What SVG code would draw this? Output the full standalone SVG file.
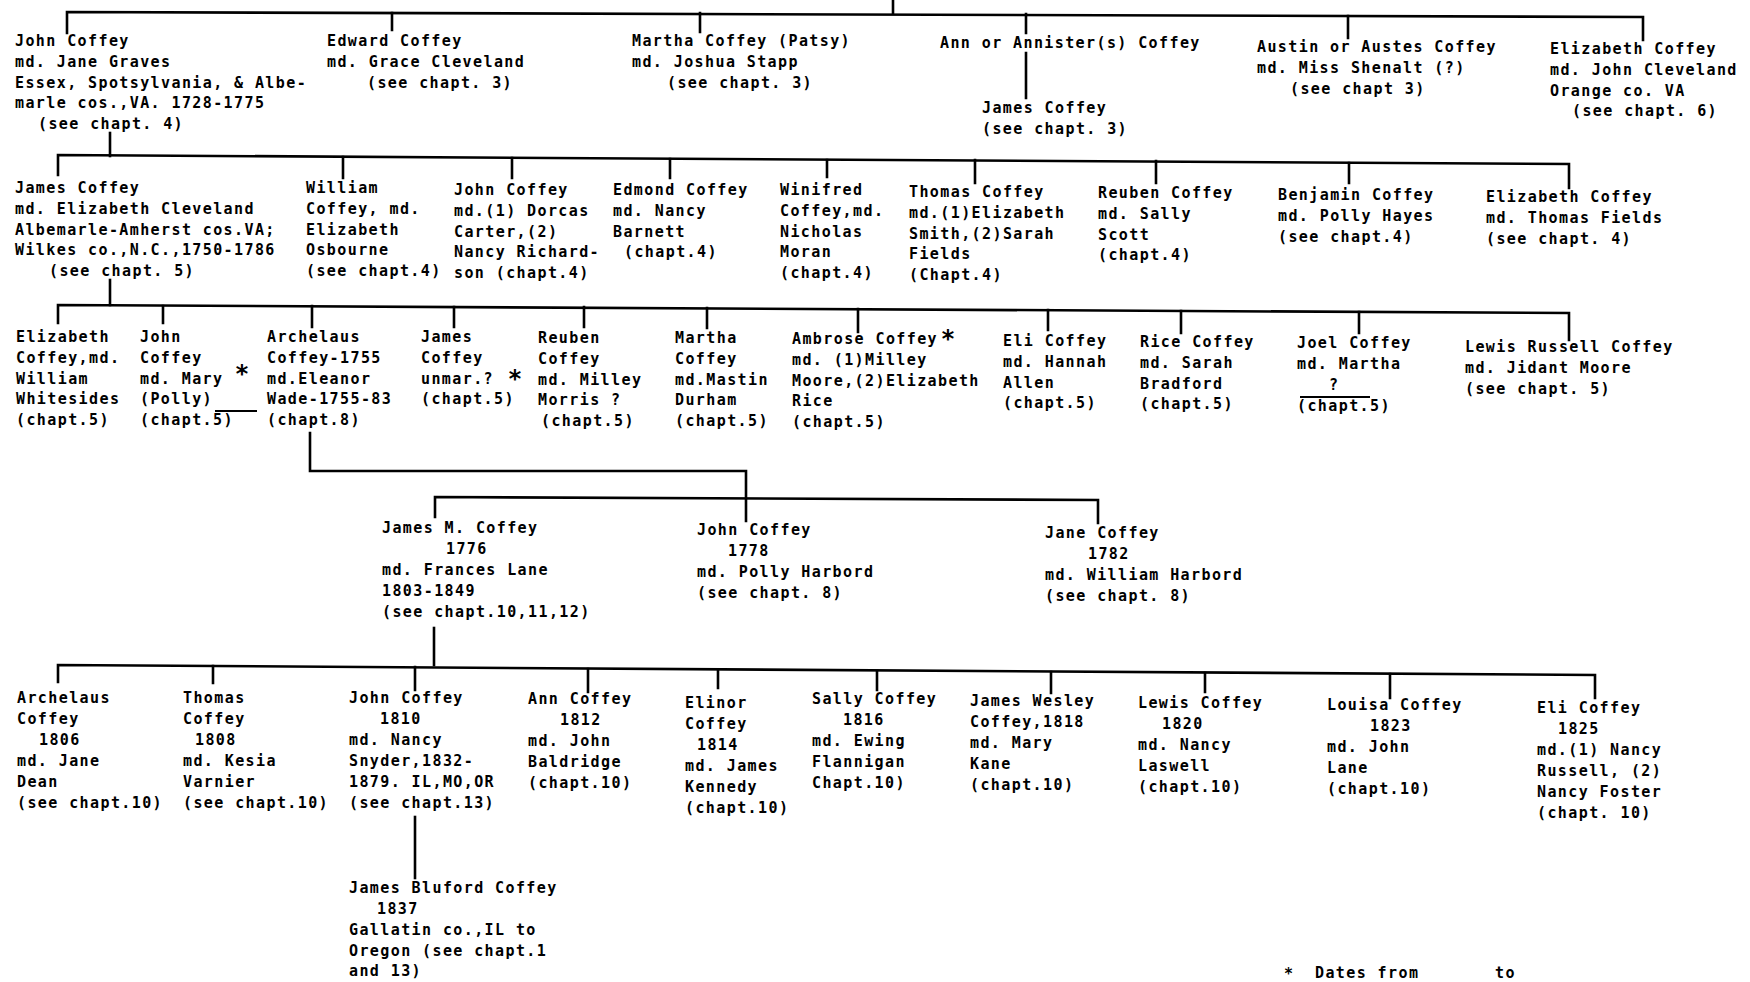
<svg xmlns="http://www.w3.org/2000/svg" width="1750" height="982" viewBox="0 0 1750 982">
<style>
.t{font-family:"DejaVu Sans Mono","Liberation Mono",monospace;font-weight:bold;font-size:15px;letter-spacing:1.4px;fill:#000}
.s{font-family:"DejaVu Sans Mono","Liberation Mono",monospace;font-weight:bold;font-size:24px;fill:#000;text-anchor:middle}
.c{stroke:#000;stroke-width:2.6;fill:none;stroke-linecap:square}
.u{stroke:#000;stroke-width:2;fill:none}
</style>
<rect width="1750" height="982" fill="#fff"/>
<g id="connectors">
<path class="c" d="M893,0 V13"/>
<path class="c" d="M67,33 V12 L1643,17 V40"/>
<path class="c" d="M392,13 V30 M700,13 V32 M1026,14 V33 M1348,16 V38 M1026,53 V98"/>
<path class="c" d="M110,133 V156"/>
<path class="c" d="M58,175 V155 L1569,164 V188"/>
<path class="c" d="M343,157 V178 M512,158 V178 M670,159 V178 M827,160 V177 M975,160 V183 M1156,161 V183 M1349,163 V183"/>
<path class="c" d="M110,280 V305"/>
<path class="c" d="M58,323 V305 L1569,313 V340"/>
<path class="c" d="M163,306 V323 M312,306 V327 M454,307 V327 M584,307 V327 M707,308 V328 M858,309 V332 M1048,310 V330 M1181,311 V333 M1359,312 V333"/>
<path class="c" d="M310,433 V471 H746 V521"/>
<path class="c" d="M435,517 V497 L1098,500 V523"/>
<path class="c" d="M434,628 V665"/>
<path class="c" d="M58,682 V665 L1595,675 V698"/>
<path class="c" d="M213,666 V683 M415,667 V690 M588,669 V692 M718,670 V688 M877,671 V690 M1051,672 V693 M1205,673 V692 M1390,674 V698"/>
<path class="c" d="M415,817 V878"/>
<path class="u" d="M215,411 H257 M1300,397 H1370"/>
</g>
<g id="g1-john"><text class="t" x="15" y="46">John Coffey<tspan x="15" dy="20.8">md. Jane Graves</tspan><tspan x="15" dy="20.8">Essex, Spotsylvania, &amp; Albe-</tspan><tspan x="15" dy="20.8">marle cos.,VA. 1728-1775</tspan><tspan x="38" dy="20.8">(see chapt. 4)</tspan></text></g>
<g id="g1-edward"><text class="t" x="327" y="46">Edward Coffey<tspan x="327" dy="20.8">md. Grace Cleveland</tspan><tspan x="367" dy="20.8">(see chapt. 3)</tspan></text></g>
<g id="g1-martha"><text class="t" x="632" y="46">Martha Coffey (Patsy)<tspan x="632" dy="20.8">md. Joshua Stapp</tspan><tspan x="667" dy="20.8">(see chapt. 3)</tspan></text></g>
<g id="g1-ann"><text class="t" x="940" y="48">Ann or Annister(s) Coffey</text></g>
<g id="g2-james-ann"><text class="t" x="982" y="113">James Coffey<tspan x="982" dy="20.8">(see chapt. 3)</tspan></text></g>
<g id="g1-austin"><text class="t" x="1257" y="52">Austin or Austes Coffey<tspan x="1257" dy="20.8">md. Miss Shenalt (?)</tspan><tspan x="1290" dy="20.8">(see chapt 3)</tspan></text></g>
<g id="g1-elizabeth"><text class="t" x="1550" y="54">Elizabeth Coffey<tspan x="1550" dy="20.8">md. John Cleveland</tspan><tspan x="1550" dy="20.8">Orange co. VA</tspan><tspan x="1572" dy="20.8">(see chapt. 6)</tspan></text></g>

<g id="g2-james"><text class="t" x="15" y="193">James Coffey<tspan x="15" dy="20.8">md. Elizabeth Cleveland</tspan><tspan x="15" dy="20.8">Albemarle-Amherst cos.VA;</tspan><tspan x="15" dy="20.8">Wilkes co.,N.C.,1750-1786</tspan><tspan x="49" dy="20.8">(see chapt. 5)</tspan></text></g>
<g id="g2-william"><text class="t" x="306" y="193">William<tspan x="306" dy="20.8">Coffey, md.</tspan><tspan x="306" dy="20.8">Elizabeth</tspan><tspan x="306" dy="20.8">Osbourne</tspan><tspan x="306" dy="20.8">(see chapt.4)</tspan></text></g>
<g id="g2-john"><text class="t" x="454" y="195">John Coffey<tspan x="454" dy="20.8">md.(1) Dorcas</tspan><tspan x="454" dy="20.8">Carter,(2)</tspan><tspan x="454" dy="20.8">Nancy Richard-</tspan><tspan x="454" dy="20.8">son (chapt.4)</tspan></text></g>
<g id="g2-edmond"><text class="t" x="613" y="195">Edmond Coffey<tspan x="613" dy="20.8">md. Nancy</tspan><tspan x="613" dy="20.8">Barnett</tspan><tspan x="624" dy="20.8">(chapt.4)</tspan></text></g>
<g id="g2-winifred"><text class="t" x="780" y="195">Winifred<tspan x="780" dy="20.8">Coffey,md.</tspan><tspan x="780" dy="20.8">Nicholas</tspan><tspan x="780" dy="20.8">Moran</tspan><tspan x="780" dy="20.8">(chapt.4)</tspan></text></g>
<g id="g2-thomas"><text class="t" x="909" y="197">Thomas Coffey<tspan x="909" dy="20.8">md.(1)Elizabeth</tspan><tspan x="909" dy="20.8">Smith,(2)Sarah</tspan><tspan x="909" dy="20.8">Fields</tspan><tspan x="909" dy="20.8">(Chapt.4)</tspan></text></g>
<g id="g2-reuben"><text class="t" x="1098" y="198">Reuben Coffey<tspan x="1098" dy="20.8">md. Sally</tspan><tspan x="1098" dy="20.8">Scott</tspan><tspan x="1098" dy="20.8">(chapt.4)</tspan></text></g>
<g id="g2-benjamin"><text class="t" x="1278" y="200">Benjamin Coffey<tspan x="1278" dy="20.8">md. Polly Hayes</tspan><tspan x="1278" dy="20.8">(see chapt.4)</tspan></text></g>
<g id="g2-elizabeth"><text class="t" x="1486" y="202">Elizabeth Coffey<tspan x="1486" dy="20.8">md. Thomas Fields</tspan><tspan x="1486" dy="20.8">(see chapt. 4)</tspan></text></g>

<g id="g3-elizabeth"><text class="t" x="16" y="342">Elizabeth<tspan x="16" dy="20.8">Coffey,md.</tspan><tspan x="16" dy="20.8">William</tspan><tspan x="16" dy="20.8">Whitesides</tspan><tspan x="16" dy="20.8">(chapt.5)</tspan></text></g>
<g id="g3-john"><text class="t" x="140" y="342">John<tspan x="140" dy="20.8">Coffey</tspan><tspan x="140" dy="20.8">md. Mary</tspan><tspan x="140" dy="20.8">(Polly)</tspan><tspan x="140" dy="20.8">(chapt.5)</tspan></text><text class="s" x="242" y="382">*</text></g>
<g id="g3-archelaus"><text class="t" x="267" y="342">Archelaus<tspan x="267" dy="20.8">Coffey-1755</tspan><tspan x="267" dy="20.8">md.Eleanor</tspan><tspan x="267" dy="20.8">Wade-1755-83</tspan><tspan x="267" dy="20.8">(chapt.8)</tspan></text></g>
<g id="g3-james"><text class="t" x="421" y="342">James<tspan x="421" dy="20.8">Coffey</tspan><tspan x="421" dy="20.8">unmar.?</tspan><tspan x="421" dy="20.8">(chapt.5)</tspan></text><text class="s" x="515" y="387">*</text></g>
<g id="g3-reuben"><text class="t" x="538" y="343">Reuben<tspan x="538" dy="20.8">Coffey</tspan><tspan x="538" dy="20.8">md. Milley</tspan><tspan x="538" dy="20.8">Morris ?</tspan><tspan x="541" dy="20.8">(chapt.5)</tspan></text></g>
<g id="g3-martha"><text class="t" x="675" y="343">Martha<tspan x="675" dy="20.8">Coffey</tspan><tspan x="675" dy="20.8">md.Mastin</tspan><tspan x="675" dy="20.8">Durham</tspan><tspan x="675" dy="20.8">(chapt.5)</tspan></text></g>
<g id="g3-ambrose"><text class="t" x="792" y="344">Ambrose Coffey<tspan x="792" dy="20.8">md. (1)Milley</tspan><tspan x="792" dy="20.8">Moore,(2)Elizabeth</tspan><tspan x="792" dy="20.8">Rice</tspan><tspan x="792" dy="20.8">(chapt.5)</tspan></text><text class="s" x="948" y="347">*</text></g>
<g id="g3-eli"><text class="t" x="1003" y="346">Eli Coffey<tspan x="1003" dy="20.8">md. Hannah</tspan><tspan x="1003" dy="20.8">Allen</tspan><tspan x="1003" dy="20.8">(chapt.5)</tspan></text></g>
<g id="g3-rice"><text class="t" x="1140" y="347">Rice Coffey<tspan x="1140" dy="20.8">md. Sarah</tspan><tspan x="1140" dy="20.8">Bradford</tspan><tspan x="1140" dy="20.8">(chapt.5)</tspan></text></g>
<g id="g3-joel"><text class="t" x="1297" y="348">Joel Coffey<tspan x="1297" dy="20.8">md. Martha</tspan><tspan x="1329" dy="21.5">?</tspan><tspan x="1297" dy="20.8">(chapt.5)</tspan></text></g>
<g id="g3-lewis"><text class="t" x="1465" y="352">Lewis Russell Coffey<tspan x="1465" dy="20.8">md. Jidant Moore</tspan><tspan x="1465" dy="20.8">(see chapt. 5)</tspan></text></g>

<g id="g4-jamesm"><text class="t" x="382" y="533">James M. Coffey<tspan x="446" dy="21">1776</tspan><tspan x="382" dy="21">md. Frances Lane</tspan><tspan x="382" dy="21">1803-1849</tspan><tspan x="382" dy="21">(see chapt.10,11,12)</tspan></text></g>
<g id="g4-john"><text class="t" x="697" y="535">John Coffey<tspan x="728" dy="21">1778</tspan><tspan x="697" dy="21">md. Polly Harbord</tspan><tspan x="697" dy="21">(see chapt. 8)</tspan></text></g>
<g id="g4-jane"><text class="t" x="1045" y="538">Jane Coffey<tspan x="1088" dy="21">1782</tspan><tspan x="1045" dy="21">md. William Harbord</tspan><tspan x="1045" dy="21">(see chapt. 8)</tspan></text></g>

<g id="g5-archelaus"><text class="t" x="17" y="703">Archelaus<tspan x="17" dy="21">Coffey</tspan><tspan x="39" dy="21">1806</tspan><tspan x="17" dy="21">md. Jane</tspan><tspan x="17" dy="21">Dean</tspan><tspan x="17" dy="21">(see chapt.10)</tspan></text></g>
<g id="g5-thomas"><text class="t" x="183" y="703">Thomas<tspan x="183" dy="21">Coffey</tspan><tspan x="195" dy="21">1808</tspan><tspan x="183" dy="21">md. Kesia</tspan><tspan x="183" dy="21">Varnier</tspan><tspan x="183" dy="21">(see chapt.10)</tspan></text></g>
<g id="g5-john"><text class="t" x="349" y="703">John Coffey<tspan x="380" dy="21">1810</tspan><tspan x="349" dy="21">md. Nancy</tspan><tspan x="349" dy="21">Snyder,1832-</tspan><tspan x="349" dy="21">1879. IL,MO,OR</tspan><tspan x="349" dy="21">(see chapt.13)</tspan></text></g>
<g id="g6-jamesbluford"><text class="t" x="349" y="893">James Bluford Coffey<tspan x="377" dy="21">1837</tspan><tspan x="349" dy="21">Gallatin co.,IL to</tspan><tspan x="349" dy="21">Oregon (see chapt.1</tspan><tspan x="349" dy="20">and 13)</tspan></text></g>
<g id="g5-ann"><text class="t" x="528" y="704">Ann Coffey<tspan x="560" dy="21">1812</tspan><tspan x="528" dy="21">md. John</tspan><tspan x="528" dy="21">Baldridge</tspan><tspan x="528" dy="21">(chapt.10)</tspan></text></g>
<g id="g5-elinor"><text class="t" x="685" y="708">Elinor<tspan x="685" dy="21">Coffey</tspan><tspan x="697" dy="21">1814</tspan><tspan x="685" dy="21">md. James</tspan><tspan x="685" dy="21">Kennedy</tspan><tspan x="685" dy="21">(chapt.10)</tspan></text></g>
<g id="g5-sally"><text class="t" x="812" y="704">Sally Coffey<tspan x="843" dy="21">1816</tspan><tspan x="812" dy="21">md. Ewing</tspan><tspan x="812" dy="21">Flannigan</tspan><tspan x="812" dy="21">Chapt.10)</tspan></text></g>
<g id="g5-jameswesley"><text class="t" x="970" y="706">James Wesley<tspan x="970" dy="21">Coffey,1818</tspan><tspan x="970" dy="21">md. Mary</tspan><tspan x="970" dy="21">Kane</tspan><tspan x="970" dy="21">(chapt.10)</tspan></text></g>
<g id="g5-lewis"><text class="t" x="1138" y="708">Lewis Coffey<tspan x="1162" dy="21">1820</tspan><tspan x="1138" dy="21">md. Nancy</tspan><tspan x="1138" dy="21">Laswell</tspan><tspan x="1138" dy="21">(chapt.10)</tspan></text></g>
<g id="g5-louisa"><text class="t" x="1327" y="710">Louisa Coffey<tspan x="1370" dy="21">1823</tspan><tspan x="1327" dy="21">md. John</tspan><tspan x="1327" dy="21">Lane</tspan><tspan x="1327" dy="21">(chapt.10)</tspan></text></g>
<g id="g5-eli"><text class="t" x="1537" y="713">Eli Coffey<tspan x="1558" dy="21">1825</tspan><tspan x="1537" dy="21">md.(1) Nancy</tspan><tspan x="1537" dy="21">Russell, (2)</tspan><tspan x="1537" dy="21">Nancy Foster</tspan><tspan x="1537" dy="21">(chapt. 10)</tspan></text></g>

<g id="footnote"><text class="t" x="1284" y="979">*</text><text class="t" x="1315" y="978">Dates from</text><text class="t" x="1495" y="978">to</text></g>
</svg>
